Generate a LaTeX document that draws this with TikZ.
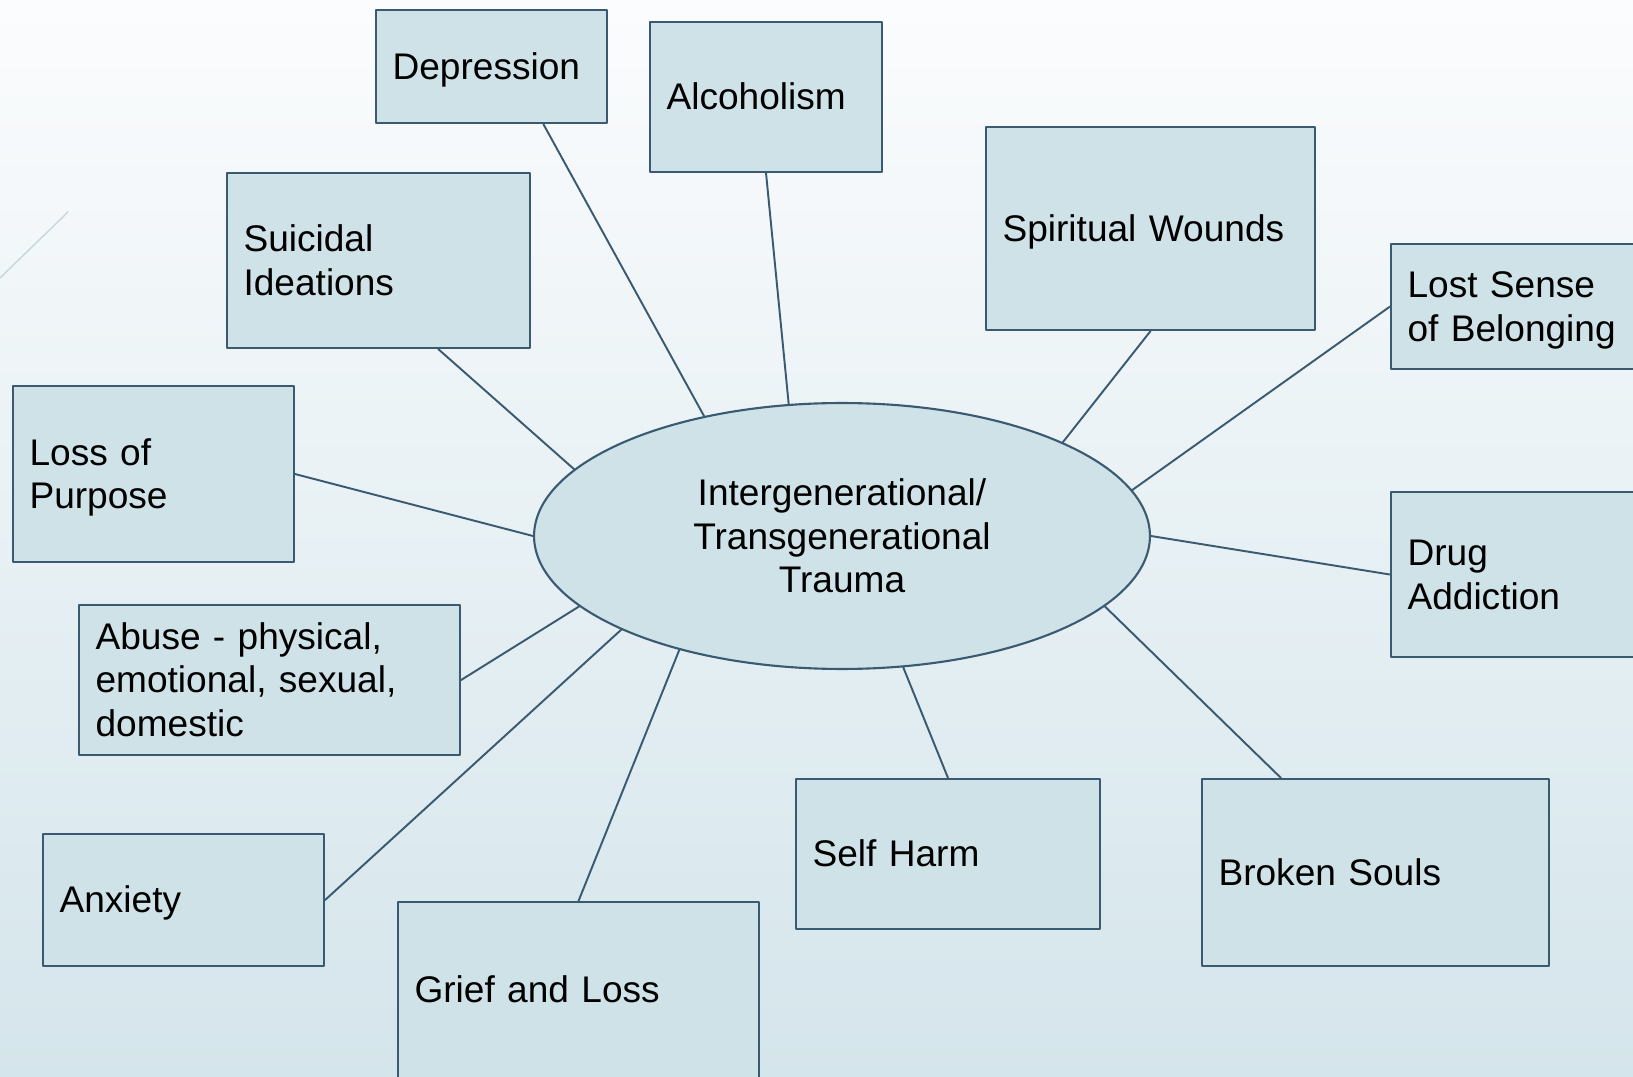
\documentclass[tikz,border=0pt]{standalone}
\usepackage{fontspec}
\setmainfont{Liberation Sans}
\usetikzlibrary{shapes.geometric}
\definecolor{edge}{RGB}{58,90,114}
\definecolor{boxfill}{RGB}{207,226,232}
\definecolor{bgtop}{RGB}{251,252,253}
\definecolor{bgbot}{RGB}{212,229,235}
\definecolor{faint}{RGB}{200,214,222}
\newcommand{\boxstrut}{\rule[-0.212em]{0pt}{1.117em}}
\begin{document}
\begin{tikzpicture}[x=0.02cm,y=-0.02cm,line join=round,line cap=round,font=\fontsize{21.1}{24.8}\selectfont,
	box/.style={draw=edge,fill=boxfill,line width=1.2pt,anchor=north west,align=left,inner xsep=0.33cm,inner ysep=0pt,
		execute at begin node=\boxstrut,execute at end node=\boxstrut},
	link/.style={draw=edge,line width=1.1pt}]
		\clip (0,0) rectangle (1633,1077);
		\shade[top color=bgtop,bottom color=bgbot] (0,0) rectangle (1633,1077);
		\draw[faint,line width=0.8pt] (0,278)--(68,212);
		% hub
		\node[ellipse,draw=edge,fill=boxfill,line width=1.2pt,minimum width=12.32cm,minimum height=5.32cm,inner sep=0pt,align=center] (trauma) at (842,536) {Intergenerational/\\Transgenerational\\Trauma};
		% boxes round the hub
		\node[box,text width=3.96cm,minimum height=2.26cm] (dep) at (375,9) {Depression};
		\node[box,text width=3.98cm,minimum height=3.00cm] (alc) at (649,21) {Alcoholism};
		\node[box,text width=5.40cm,minimum height=3.50cm] (sui) at (226,172) {Suicidal\\Ideations};
		\node[box,text width=5.92cm,minimum height=4.06cm] (spi) at (985,126) {Spiritual Wounds};
		\node[box,text width=4.54cm,minimum height=2.50cm] (lost) at (1390,243) {Lost Sense\\of Belonging};
		\node[box,text width=4.54cm,minimum height=3.30cm] (drug) at (1390,491) {Drug\\Addiction};
		\node[box,text width=4.96cm,minimum height=3.52cm] (lop) at (12,385) {Loss of\\Purpose};
		\node[box,text width=6.96cm,minimum height=3.00cm] (abuse) at (78,604) {Abuse - physical,\\emotional, sexual,\\domestic};
		\node[box,text width=4.96cm,minimum height=2.64cm] (anx) at (42,833) {Anxiety};
		\node[box,text width=6.56cm,minimum height=3.52cm] (grief) at (397,901) {Grief and Loss};
		\node[box,text width=5.42cm,minimum height=3.00cm] (self) at (795,778) {Self Harm};
		\node[box,text width=6.28cm,minimum height=3.74cm] (broken) at (1201,778) {Broken Souls};
		% connectors
		\draw[link] (dep.-48)--(trauma.139.8);
		\draw[link] (alc.south)--(trauma.112.1);
		\draw[link] (sui.-56)--(trauma.166.7);
		\draw[link] (spi.south)--(trauma.23.5);
		\draw[link] (lost.west)--(trauma.9.9);
		\draw[link] (drug.west)--(trauma.east);
		\draw[link] (lop.east)--(trauma.west);
		\draw[link] (abuse.east)--(trauma.195.2);
		\draw[link] (anx.east)--(trauma.203.3);
		\draw[link] (grief.north)--(trauma.215.5);
		\draw[link] (self.north)--(trauma.295.9);
		\draw[link] (broken.135)--(trauma.-15.7);
\end{tikzpicture}
\end{document}
